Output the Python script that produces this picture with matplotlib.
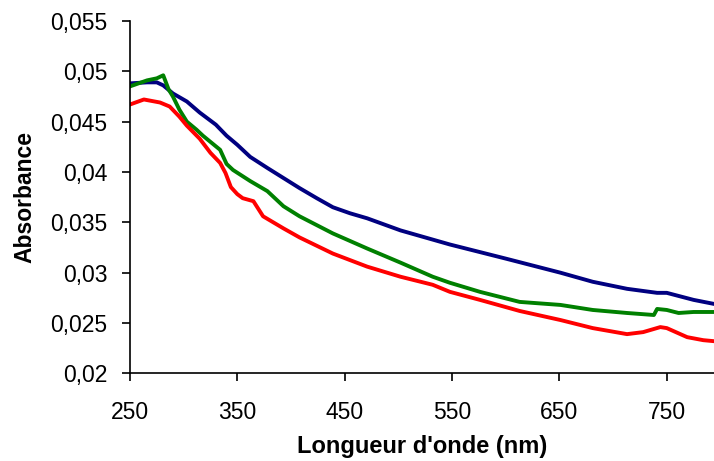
'''
Absorbance spectra, three samples
'''
import matplotlib.pyplot as plt
from matplotlib.ticker import FuncFormatter

# blue (navy) series
wl_blue = [250, 266, 275, 281, 290, 303, 315, 330, 340, 350, 362, 378, 393, 408,
           424, 439, 455, 471, 502, 548, 600, 651, 681, 713, 741, 750, 775, 794]
abs_blue = [0.0488, 0.0489, 0.0489, 0.0486, 0.0478, 0.0470, 0.0459, 0.0447, 0.0436,
            0.0427, 0.0415, 0.0404, 0.0394, 0.0384, 0.0374, 0.0365, 0.0359, 0.0354,
            0.0342, 0.0328, 0.0314, 0.0300, 0.0291, 0.0284, 0.0280, 0.0280, 0.0273,
            0.0269]

# green series
wl_green = [250, 258, 266, 275, 281, 286, 290, 296, 303, 312, 318, 334, 340, 346,
            362, 378, 393, 408, 439, 471, 502, 532, 548, 576, 613, 651, 681, 713,
            738, 741, 750, 761, 775, 794]
abs_green = [0.0485, 0.0488, 0.0491, 0.0493, 0.0496, 0.0482, 0.0475, 0.0462, 0.0450,
             0.0442, 0.0436, 0.0422, 0.0408, 0.0402, 0.0391, 0.0381, 0.0366, 0.0356,
             0.0339, 0.0324, 0.0310, 0.0296, 0.0290, 0.0281, 0.0271, 0.0268, 0.0263,
             0.0260, 0.0258, 0.0264, 0.0263, 0.0260, 0.0261, 0.0261]

# red series
wl_red = [250, 263, 278, 287, 296, 303, 315, 325, 334, 339, 344, 350, 355, 365, 374,
          393, 408, 439, 471, 502, 532, 548, 576, 613, 651, 681, 713, 728, 744, 750,
          769, 784, 794]
abs_red = [0.0467, 0.0472, 0.0469, 0.0465, 0.0455, 0.0446, 0.0433, 0.0419, 0.0409,
           0.0399, 0.0385, 0.0378, 0.0374, 0.0371, 0.0356, 0.0344, 0.0335, 0.0319,
           0.0306, 0.0296, 0.0288, 0.0281, 0.0273, 0.0262, 0.0253, 0.0245, 0.0239,
           0.0241, 0.0246, 0.0245, 0.0236, 0.0233, 0.0232]

x_ticks = [250, 350, 450, 550, 650, 750]
y_ticks = [0.02, 0.025, 0.03, 0.035, 0.04, 0.045, 0.05, 0.055]

plt.rcParams['font.family'] = ['Liberation Sans', 'DejaVu Sans']

fig = plt.figure(figsize=(7.14, 4.61), dpi=100)
ax = fig.add_axes([0.182, 0.19, 0.818, 0.7646])

ax.plot(wl_blue, abs_blue, color='#000080', lw=2.8)
ax.plot(wl_green, abs_green, color='#008000', lw=2.8)
ax.plot(wl_red, abs_red, color='#ff0000', lw=2.8)

ax.set_xlim(250, 794)
ax.set_ylim(0.02, 0.055)
ax.set_xticks(x_ticks)
ax.set_yticks(y_ticks)

def comma(v, pos):
    s = f"{v:.3f}".rstrip('0').rstrip('.')
    return s.replace('.', ',')

ax.yaxis.set_major_formatter(FuncFormatter(comma))

for side in ['top', 'right']:
    ax.spines[side].set_visible(False)
for side in ['left', 'bottom']:
    ax.spines[side].set_linewidth(1.2)

ax.tick_params(axis='both', direction='out', length=6, width=1.2, labelsize=16.5)
ax.tick_params(axis='x', pad=14)
ax.tick_params(axis='y', pad=10)

ax.set_xlabel("Longueur d'onde (nm)", fontsize=17, fontweight='bold', labelpad=8)
ax.set_ylabel("Absorbance", fontsize=16.5, fontweight='bold', labelpad=10)

fig.savefig('out.png', dpi=100)
